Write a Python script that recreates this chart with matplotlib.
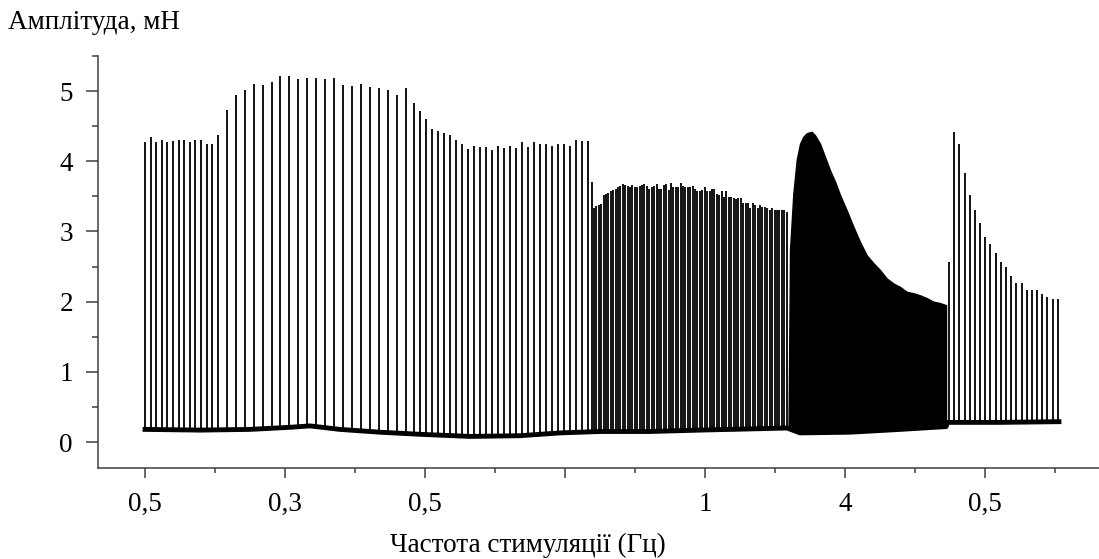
import numpy as np
import matplotlib
matplotlib.use("Agg")
import matplotlib.pyplot as plt
from matplotlib.ticker import MultipleLocator

plt.rcParams['font.family'] = ['Liberation Serif', 'DejaVu Serif']

# twitch peaks (mN), one value per stimulus, per stimulation block
amp_05a = [4.28, 4.34, 4.28, 4.31, 4.27, 4.29, 4.31, 4.30, 4.28, 4.30, 4.30, 4.25, 4.25, 4.37]
amp_03 = [4.73, 4.94, 5.02, 5.10, 5.09, 5.13, 5.21, 5.21, 5.17, 5.18, 5.18, 5.17, 5.18, 5.09,
          5.07, 5.10, 5.06, 5.04, 5.02, 4.95, 5.04]
amp_05b = [4.83, 4.71, 4.60, 4.46, 4.43, 4.41, 4.37, 4.31, 4.25, 4.18, 4.22, 4.21, 4.21, 4.16,
           4.22, 4.19, 4.22, 4.19, 4.27, 4.20, 4.27, 4.25, 4.25, 4.22, 4.25, 4.25, 4.22, 4.31,
           4.29, 4.29]
amp_1hz = [3.71, 3.34, 3.36, 3.38, 3.39, 3.52, 3.53, 3.55, 3.57, 3.59, 3.60, 3.63, 3.65, 3.67,
           3.66, 3.65, 3.63, 3.66, 3.63, 3.64, 3.65, 3.66, 3.68, 3.65, 3.61, 3.63, 3.65, 3.68,
           3.61, 3.60, 3.66, 3.68, 3.59, 3.69, 3.64, 3.64, 3.63, 3.69, 3.65, 3.63, 3.64,
           3.64, 3.65, 3.61, 3.57, 3.57, 3.59, 3.64, 3.58, 3.58, 3.60, 3.60, 3.54, 3.52, 3.58,
           3.49, 3.57, 3.49, 3.49, 3.47, 3.46, 3.47, 3.47, 3.40, 3.40, 3.41, 3.34, 3.40, 3.38,
           3.34, 3.38, 3.35, 3.35, 3.34, 3.31, 3.33, 3.31, 3.30, 3.30, 3.30, 3.30, 3.28]
amp_05c = [2.57, 4.42, 4.25, 3.83, 3.52, 3.31, 3.12, 2.92, 2.82, 2.70, 2.57, 2.50, 2.37, 2.27,
           2.26, 2.17, 2.17, 2.17, 2.11, 2.07, 2.04, 2.04]

# block start (s) and inter-stimulus interval (s)
block_start = [0.0, 29.18, 95.96, 159.46, 287.14]
block_step = [2.0, 3.2, 2.15, 0.86, 1.85]
blocks = [amp_05a, amp_03, amp_05b, amp_1hz, amp_05c]

# 4 Hz block: twitches fuse, upper envelope
env_t = [229.82, 230.36, 231.54, 232.75, 233.93, 235.11, 236.32, 238.11, 239.29, 241.07,
         242.86, 244.64, 246.43, 248.21, 250.61, 252.96, 255.36, 257.75, 260.11, 262.5,
         264.89, 267.25, 269.64, 272.04, 274.39, 276.79, 279.18, 281.54, 283.93, 286.07]
env_amp = [0.20, 2.74, 3.54, 4.02, 4.25, 4.35, 4.40, 4.42, 4.37, 4.25,
           4.06, 3.87, 3.71, 3.52, 3.30, 3.07, 2.85, 2.66, 2.55, 2.45,
           2.33, 2.26, 2.21, 2.14, 2.12, 2.09, 2.05, 2.00, 1.98, 1.95]

# resting baseline
base_t = [0, 19.6, 37.5, 51.8, 58.9, 69.6, 83.9, 98.2, 116.1, 133.9, 148.2, 162.5, 180.4,
          198.2, 219.6, 229.3, 233.9, 251.8, 269.6, 286.1, 286.6, 305.4, 326.4]
base_amp = [0.18, 0.17, 0.18, 0.21, 0.23, 0.18, 0.14, 0.11, 0.08, 0.09, 0.13, 0.15, 0.15,
            0.17, 0.19, 0.20, 0.13, 0.14, 0.18, 0.22, 0.28, 0.28, 0.29]

tick_labels = ["0,5", "0,3", "0,5", "", "1", "4", "0,5"]

fig = plt.figure(figsize=(10.99, 5.59), dpi=100)
ax = fig.add_axes([98 / 1099, 91 / 559, 1 - 98 / 1099, 412 / 559])

for start, step, amps in zip(block_start, block_step, blocks):
    t = start + step * np.arange(len(amps))
    foot = np.interp(t, base_t, base_amp)
    ax.vlines(t, foot, amps, color="black", lw=1.3)

env_foot = np.interp(env_t, base_t, base_amp)
ax.fill_between(env_t, env_foot, env_amp, color="black", lw=1.0)
ax.plot(base_t, base_amp, color="black", lw=3.5)

ax.set_xlim(-16.79, 340.7)
ax.set_ylim(-0.37, 5.5)

ax.xaxis.set_minor_locator(MultipleLocator(25))
ax.set_xticks(np.arange(0, 301, 50))
ax.set_xticklabels(tick_labels)
ax.set_yticks(range(6))
ax.yaxis.set_minor_locator(MultipleLocator(0.5))

for s in ["top", "right"]:
    ax.spines[s].set_visible(False)
for s in ["left", "bottom"]:
    ax.spines[s].set_color("#404040")
    ax.spines[s].set_linewidth(1.1)

ax.tick_params(axis="x", which="major", length=7, width=1.1, color="#404040", labelsize=19.5, pad=10)
ax.tick_params(axis="x", which="minor", length=3.5, width=1.1, color="#404040")
ax.tick_params(axis="y", which="major", length=9, width=1.1, color="#404040", labelsize=19.5, pad=9)
ax.tick_params(axis="y", which="minor", length=4.5, width=1.1, color="#404040")

fig.text(8 / 1099, 1 - 29 / 559, "Амплітуда, мН", fontsize=19.5, ha="left", va="baseline")
fig.text(528 / 1099, 7 / 559, "Частота стимуляції (Гц)", fontsize=19.5, ha="center", va="baseline")

fig.savefig("out.png", dpi=100)
